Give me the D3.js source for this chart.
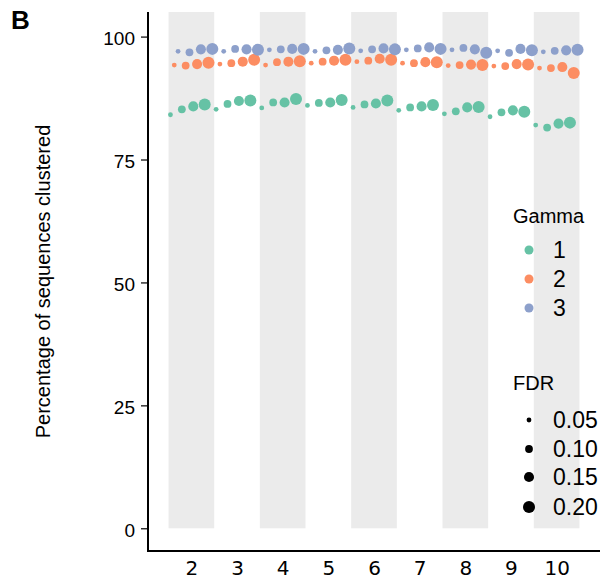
<!DOCTYPE html>
<html>
<head>
<meta charset="utf-8">
<script src="https://cdn.jsdelivr.net/npm/d3@7"></script>
<style>
  body { margin: 0; background: #fff; }
  svg { font-family: "Liberation Sans", Arial, sans-serif; }
</style>
</head>
<body>
<svg id="chart" width="613" height="582"></svg>
<script>
// Categories on the x axis and FDR levels dodged inside each
const categories = [2, 3, 4, 5, 6, 7, 8, 9, 10];
const fdr_levels = [0.05, 0.10, 0.15, 0.20];
const gamma_levels = ['1', '2', '3'];
const y_ticks = [0, 25, 50, 75, 100];

// Percentage clustered, one row per category, one value per FDR level
const gamma1 = [
    [84.1, 85.2, 85.8, 86.2],
    [85.2, 86.3, 86.9, 87.0],
    [85.5, 86.6, 86.6, 87.3],
    [86.0, 86.5, 86.6, 87.1],
    [85.6, 86.2, 86.4, 87.0],
    [85.0, 85.6, 85.8, 86.1],
    [84.3, 84.8, 85.6, 85.7],
    [83.7, 84.6, 85.0, 84.7],
    [82.0, 81.5, 82.3, 82.5]
];
const gamma2 = [
    [94.2, 94.1, 94.4, 94.7],
    [94.4, 94.6, 94.9, 95.3],
    [94.2, 94.8, 94.9, 95.0],
    [94.6, 94.9, 95.1, 95.3],
    [94.9, 95.1, 95.5, 95.3],
    [94.6, 94.6, 94.8, 94.8],
    [94.1, 94.2, 94.3, 94.2],
    [94.0, 94.0, 94.4, 94.3],
    [93.6, 93.6, 93.8, 92.6]
];
const gamma3 = [
    [97.0, 96.8, 97.4, 97.5],
    [97.0, 97.5, 97.4, 97.3],
    [97.3, 97.4, 97.5, 97.5],
    [97.0, 97.2, 97.3, 97.6],
    [97.1, 97.4, 97.6, 97.4],
    [97.3, 97.6, 97.8, 97.5],
    [97.3, 97.7, 97.4, 96.7],
    [97.1, 96.7, 97.5, 97.2],
    [96.9, 97.1, 97.2, 97.3]
];
const gamma_colors = ['#66c2a5', '#fc8d62', '#8da0cb'];

const svg = d3.select('#chart');
const panel = { left: 148, right: 600, top: 12, bottom: 551 };

// Continuous x with ggplot-like expansion around 1.5..10.5
const xScale = d3.scaleLinear().domain([1.05, 10.95]).range([panel.left, panel.right]);
const yScale = d3.scaleLinear().domain([-4.62, 105.0]).range([panel.bottom, panel.top]);

// 12 dodge slots inside each category: FDR outer, gamma inner
const slots = d3.range(fdr_levels.length * gamma_levels.length);
const dodge = d3.scaleBand().domain(slots).range([-0.5, 0.5]);

// Point radius from FDR (area linear)
const rScale = d3.scaleSqrt().domain([0, 0.05, 0.20]).range([0, 2.4, 6.0]);

// Grey bands behind the even categories
const shaded = categories.filter(c => c % 2 === 0);
svg.append('g').selectAll('rect')
    .data(shaded)
    .join('rect')
    .attr('x', d => xScale(d - 0.5))
    .attr('width', d => xScale(d + 0.5) - xScale(d - 0.5))
    .attr('y', yScale(105.0))
    .attr('height', yScale(0) - yScale(105.0))
    .attr('fill', '#ebebeb');

// Build point records from the arrays
const all_series = [gamma1, gamma2, gamma3];
const points = [];
all_series.forEach((series, gi) => {
    categories.forEach((cat, ci) => {
        fdr_levels.forEach((f, fi) => {
            points.push({ cat: cat, fdr: f, gamma: gi, value: series[ci][fi], slot: fi * 3 + gi });
        });
    });
});

svg.append('g').selectAll('circle')
    .data(points)
    .join('circle')
    .attr('cx', d => xScale(d.cat + dodge(d.slot) + dodge.bandwidth() / 2))
    .attr('cy', d => yScale(d.value))
    .attr('r', d => rScale(d.fdr))
    .attr('fill', d => gamma_colors[d.gamma]);

// Axes
const yAxis = svg.append('g')
    .attr('transform', `translate(${panel.left},0)`)
    .call(d3.axisLeft(yScale).tickValues(y_ticks).tickSize(7).tickPadding(6).tickSizeOuter(0));
yAxis.select('.domain').remove();
yAxis.selectAll('line').attr('stroke', '#000').attr('stroke-width', 1.2);
yAxis.selectAll('text').attr('font-size', 19).attr('fill', '#000').attr('dy', '0.42em')
    .attr('font-family', '"Liberation Sans", Arial, sans-serif');

const xAxis = svg.append('g')
    .attr('transform', `translate(0,${panel.bottom})`)
    .call(d3.axisBottom(xScale).tickValues(categories).tickSize(0).tickPadding(10));
xAxis.select('.domain').remove();
xAxis.selectAll('text').attr('font-size', 20).attr('fill', '#000')
    .attr('font-family', '"DejaVu Sans", sans-serif');

// Axis lines
svg.append('line')
    .attr('x1', panel.left).attr('x2', panel.left)
    .attr('y1', panel.top).attr('y2', panel.bottom + 1)
    .attr('stroke', '#000').attr('stroke-width', 2);
svg.append('line')
    .attr('x1', panel.left - 1).attr('x2', panel.right)
    .attr('y1', panel.bottom).attr('y2', panel.bottom)
    .attr('stroke', '#000').attr('stroke-width', 2);

// Y label and panel letter
svg.append('text')
    .attr('transform', `translate(50,${(panel.top + panel.bottom) / 2}) rotate(-90)`)
    .attr('text-anchor', 'middle')
    .attr('font-size', 20)
    .text('Percentage of sequences clustered');

svg.append('text')
    .attr('x', 11).attr('y', 29)
    .attr('font-size', 26).attr('font-weight', 'bold')
    .text('B');

// Legend: Gamma
const legend_x = 529;
svg.append('text').attr('x', 513).attr('y', 223).attr('font-size', 20).text('Gamma');
const gammaRows = [250, 279, 308];
gamma_levels.forEach((g, i) => {
    svg.append('circle').attr('cx', legend_x).attr('cy', gammaRows[i]).attr('r', 4.5).attr('fill', gamma_colors[i]);
    svg.append('text').attr('x', 553).attr('y', gammaRows[i] + 8).attr('font-size', 23).text(g);
});

// Legend: FDR
svg.append('text').attr('x', 513).attr('y', 390).attr('font-size', 20).text('FDR');
const fdrRows = [420, 449, 477, 507];
fdr_levels.forEach((f, i) => {
    svg.append('circle').attr('cx', legend_x).attr('cy', fdrRows[i]).attr('r', rScale(f)).attr('fill', '#000');
    svg.append('text').attr('x', 553).attr('y', fdrRows[i] + 8).attr('font-size', 23).text(f.toFixed(2));
});
</script>
</body>
</html>
